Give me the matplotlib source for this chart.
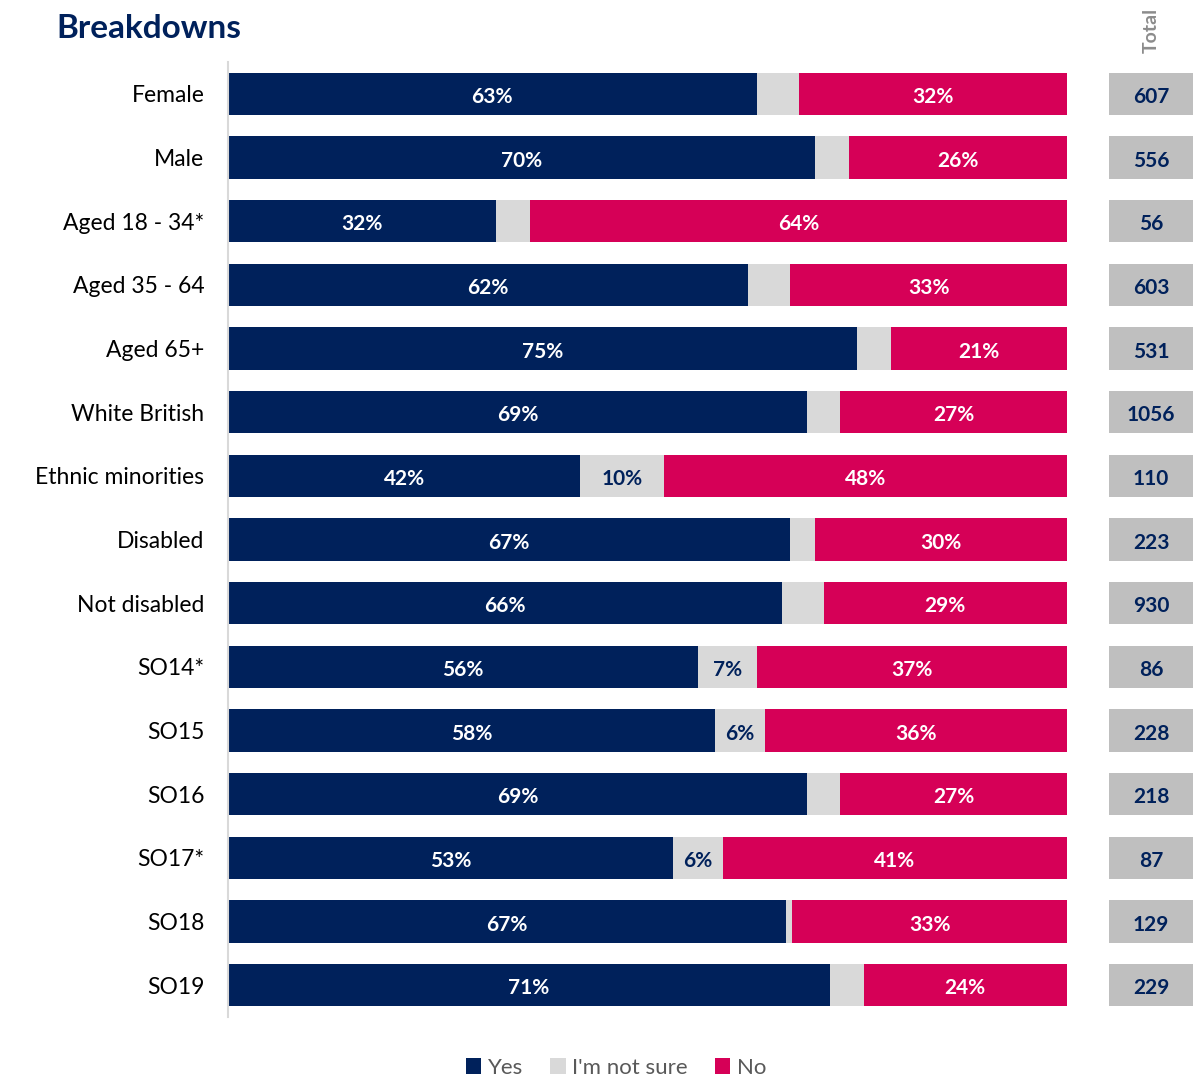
import matplotlib.pyplot as plt
import numpy as np

plt.rcParams['font.family'] = ['Lato', 'DejaVu Sans']

# Data
groups = ['Female', 'Male', 'Aged 18 - 34*', 'Aged 35 - 64', 'Aged 65+', 'White British',
          'Ethnic minorities', 'Disabled', 'Not disabled', 'SO14*', 'SO15', 'SO16',
          'SO17*', 'SO18', 'SO19']
yes = [63, 70, 32, 62, 75, 69, 42, 67, 66, 56, 58, 69, 53, 67, 71]
not_sure = [5, 4, 4, 5, 4, 4, 10, 3, 5, 7, 6, 4, 6, 0.7, 4]
no = [32, 26, 64, 33, 21, 27, 48, 30, 29, 37, 36, 27, 41, 33, 24]
totals = [607, 556, 56, 603, 531, 1056, 110, 223, 930, 86, 228, 218, 87, 129, 229]

navy = '#00215B'
grey = '#D9D9D9'
pink = '#D60057'

W, H = 1196, 1079
fig = plt.figure(figsize=(W / 100, H / 100), dpi=100)

ax_bottom = (H - 1017) / H
ax_height = (1017 - 62) / H
ax = fig.add_axes([228 / W, ax_bottom, (1067 - 228) / W, ax_height])
ax_t = fig.add_axes([1109 / W, ax_bottom, (1193 - 1109) / W, ax_height])

y = np.arange(len(groups))
bh = 0.66
left_ns = np.array(yes)
left_no = left_ns + np.array(not_sure)
scale = 100 / (left_no + np.array(no))  # normalise each row to 100

ax.barh(y, np.array(yes) * scale, height=bh, color=navy, label='Yes')
ax.barh(y, np.array(not_sure) * scale, left=left_ns * scale, height=bh, color=grey, label="I'm not sure")
ax.barh(y, np.array(no) * scale, left=left_no * scale, height=bh, color=pink, label='No')

lab = dict(ha='center', va='center_baseline', fontsize=15, fontweight='bold')
for i in range(len(groups)):
    ax.text(yes[i] * scale[i] / 2, i + 0.02, f'{yes[i]}%', color='white', **lab)
    if not_sure[i] >= 6:
        ax.text((left_ns[i] + not_sure[i] / 2) * scale[i], i + 0.02, f'{not_sure[i]}%',
                color=navy, **lab)
    ax.text((left_no[i] + no[i] / 2) * scale[i], i + 0.02, f'{no[i]}%', color='white', **lab)

ax.set_xlim(0, 100)
ax.set_ylim(len(groups) - 0.5, -0.5)
ax.set_yticks(y)
ax.set_yticklabels(groups, fontsize=16.5, va='center_baseline')
ax.tick_params(axis='y', length=0, pad=17)
ax.set_xticks([])
for s in ['top', 'right', 'bottom']:
    ax.spines[s].set_visible(False)
ax.spines['left'].set_color('#D9D9D9')
ax.spines['left'].set_linewidth(1.5)

# Total column
ax_t.barh(y, [1] * len(groups), height=bh, color='#BFBFBF')
for i, t in enumerate(totals):
    ax_t.text(0.5, i + 0.02, str(t), color=navy, **lab)
ax_t.set_xlim(0, 1)
ax_t.set_ylim(len(groups) - 0.5, -0.5)
ax_t.axis('off')
fig.text(1151 / W, 1 - 30 / H, 'Total', rotation=90, ha='center', va='center',
         color='#8C8C8C', fontsize=14, fontweight='bold')

fig.text(56 / W, 1 - 29 / H, 'Breakdowns', ha='left', va='center', color=navy,
         fontsize=24, fontweight='bold')

handles, labels = ax.get_legend_handles_labels()
leg = fig.legend(handles, labels, loc='center', bbox_to_anchor=(616 / W, 1 - 1068 / H), ncol=3,
                 frameon=False, fontsize=16, handlelength=0.7, handleheight=0.7,
                 handletextpad=0.3, columnspacing=1.2)
for txt in leg.get_texts():
    txt.set_color('#595959')

fig.savefig('out.png', dpi=100)
